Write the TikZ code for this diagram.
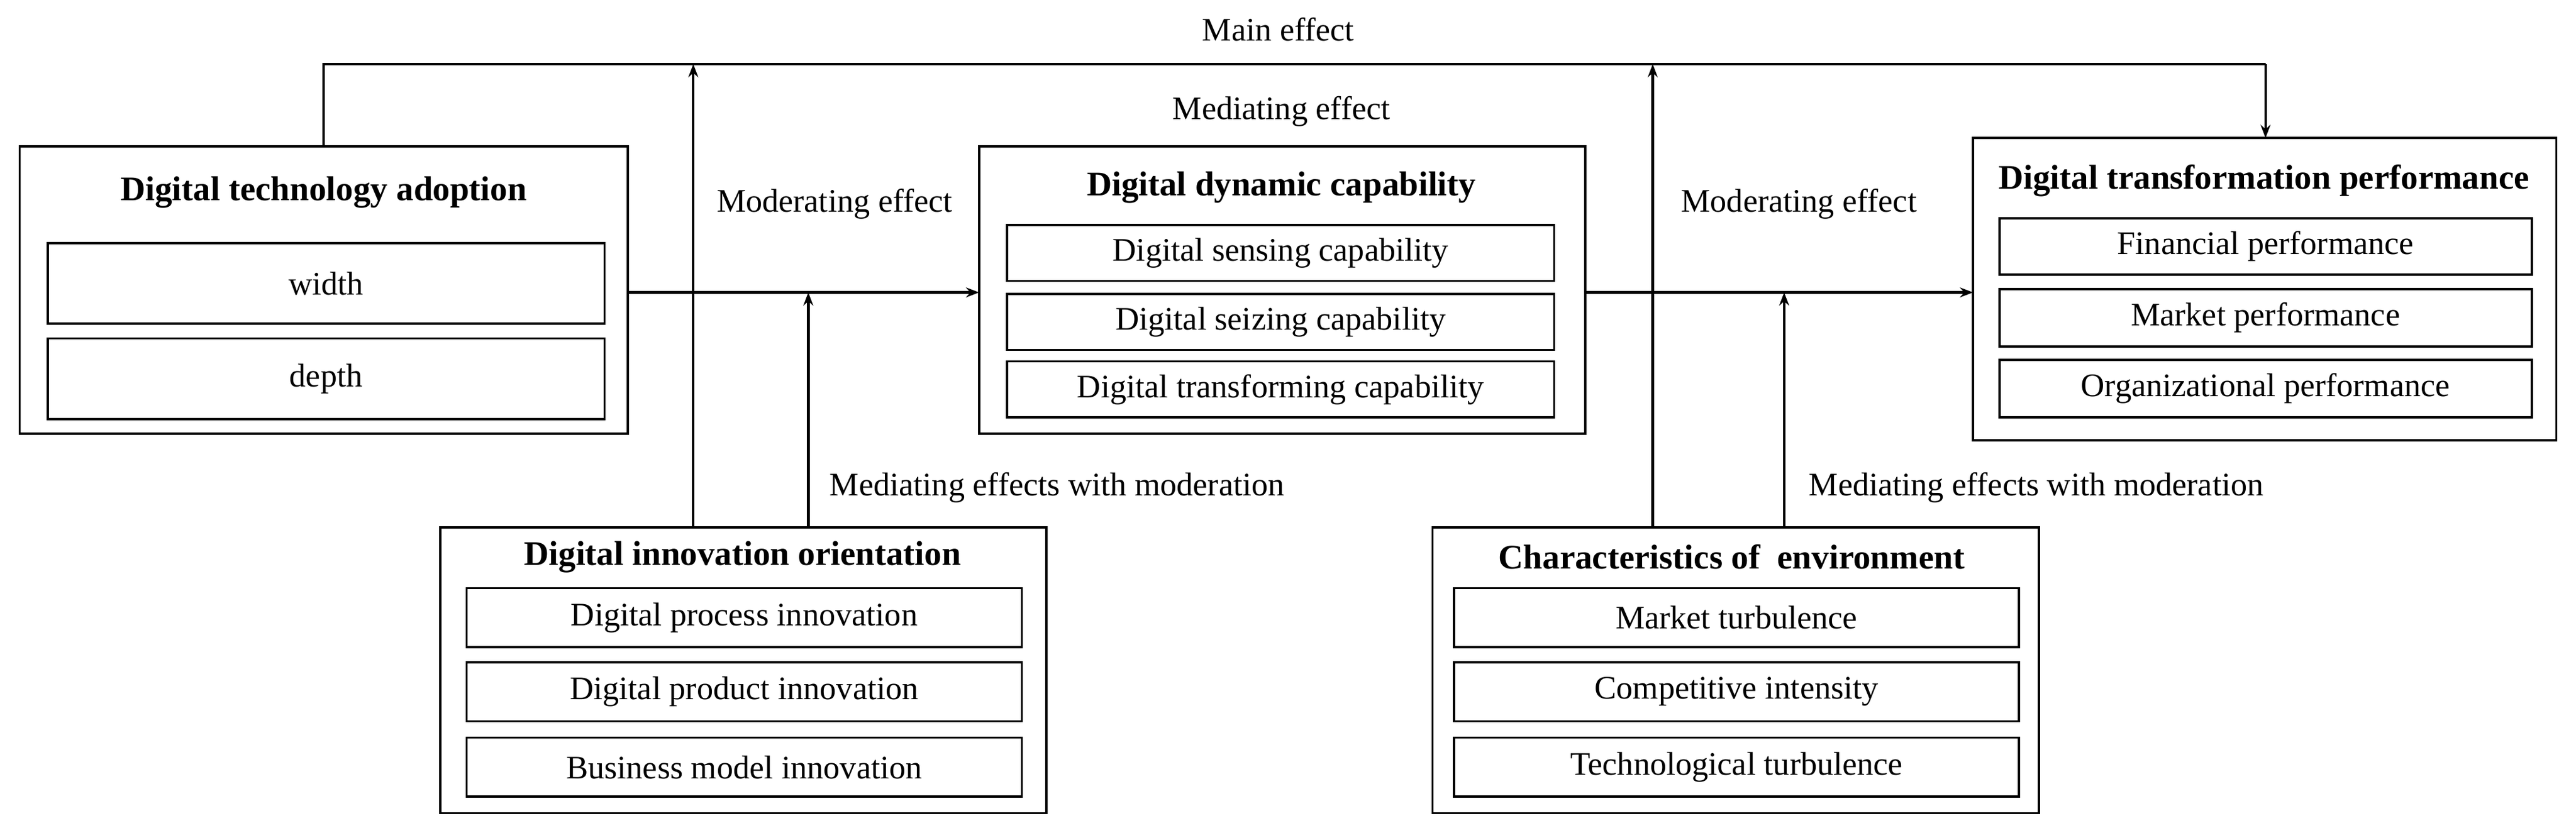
\documentclass[tikz,border=0pt]{standalone}
\usepackage{fontspec}
\setmainfont{Liberation Serif}
\usetikzlibrary{arrows.meta}
\begin{document}
\begin{tikzpicture}[x=0.5pt,y=-0.5pt,
 outer/.style={draw,line width=0.7pt},
 inner/.style={draw,line width=0.7pt},
 ttl/.style={font=\fontsize{10.5}{12}\selectfont\bfseries},
 lbl/.style={font=\fontsize{10}{12}\selectfont},
 conn/.style={line width=0.8pt},
 arr/.style={conn,-{Stealth[length=4pt,width=3pt]}}]
\useasboundingbox (0,0) rectangle (1568,504);
% outer boxes
\draw[outer] (12,89) rectangle (382,264);
\draw[outer] (596,89) rectangle (965,264);
\draw[outer] (1201,84) rectangle (1556,268);
\draw[outer] (268,321) rectangle (637,495);
\draw[outer] (872,321) rectangle (1241,495);
\coordinate (dtaR) at (382,178); \coordinate (ddcL) at (596,178);
\coordinate (ddcR) at (965,178); \coordinate (dtpL) at (1201,178);
% titles
\node[ttl] (t1) at (197,117) {Digital technology adoption};
\node[ttl] (t2) at (780,114) {Digital dynamic capability};
\node[ttl] (t3) at (1378,110) {Digital transformation performance};
\node[ttl] (t4) at (452,339) {Digital innovation orientation};
\node[ttl] (t5) at (1054,339) {Characteristics of\ \ environment};
% inner boxes
\foreach \n/\a/\b/\c/\d/\t in {
 a1/29/148/368/197/width, a2/29/206/368/255/depth,
 b1/613/137/946/171/Digital sensing capability,
 b2/613/179/946/213/Digital seizing capability,
 b3/613/220/946/254/Digital transforming capability,
 c1/1217/133/1541/167/Financial performance,
 c2/1217/176/1541/211/Market performance,
 c3/1217/219/1541/254/Organizational performance,
 d1/284/358/622/394/Digital process innovation,
 d2/284/403/622/439/Digital product innovation,
 d3/284/449/622/485/Business model innovation,
 e1/885/358/1229/394/Market turbulence,
 e2/885/403/1229/439/Competitive intensity,
 e3/885/449/1229/485/Technological turbulence}{
 \draw[inner] (\a,\b) rectangle (\c,\d);
 \node[lbl] (\n) at ({(\a+\c)/2},{(\b+\d)/2}) {\t};
}
% connectors
\coordinate (m1) at (197,89); \coordinate (m2) at (197,39);
\coordinate (m3) at (1379,39); \coordinate (m4) at (1379,84);
\draw[conn] (m1) -- (m2) -- (m3);
\draw[arr] (m3) -- (m4);
\coordinate (u1) at (422,321); \coordinate (u1t) at (422,39);
\coordinate (u2) at (1006,321); \coordinate (u2t) at (1006,39);
\draw[arr] (u1) -- (u1t);
\draw[arr] (u2) -- (u2t);
\draw[arr] (dtaR) -- (ddcL);
\draw[arr] (ddcR) -- (dtpL);
\coordinate (v1) at (492,321); \coordinate (v1t) at (492,178);
\coordinate (v2) at (1086,321); \coordinate (v2t) at (1086,178);
\draw[arr] (v1) -- (v1t);
\draw[arr] (v2) -- (v2t);
% labels
\node[lbl] (l1) at (778,18) {Main effect};
\node[lbl] (l2) at (780,68) {Mediating effect};
\node[lbl] (l3) at (508,124) {Moderating effect};
\node[lbl] (l4) at (1095,124) {Moderating effect};
\node[lbl,anchor=west] (l5) at (498,297) {Mediating effects with moderation};
\node[lbl,anchor=west] (l6) at (1094,297) {Mediating effects with moderation};
\end{tikzpicture}
\end{document}
